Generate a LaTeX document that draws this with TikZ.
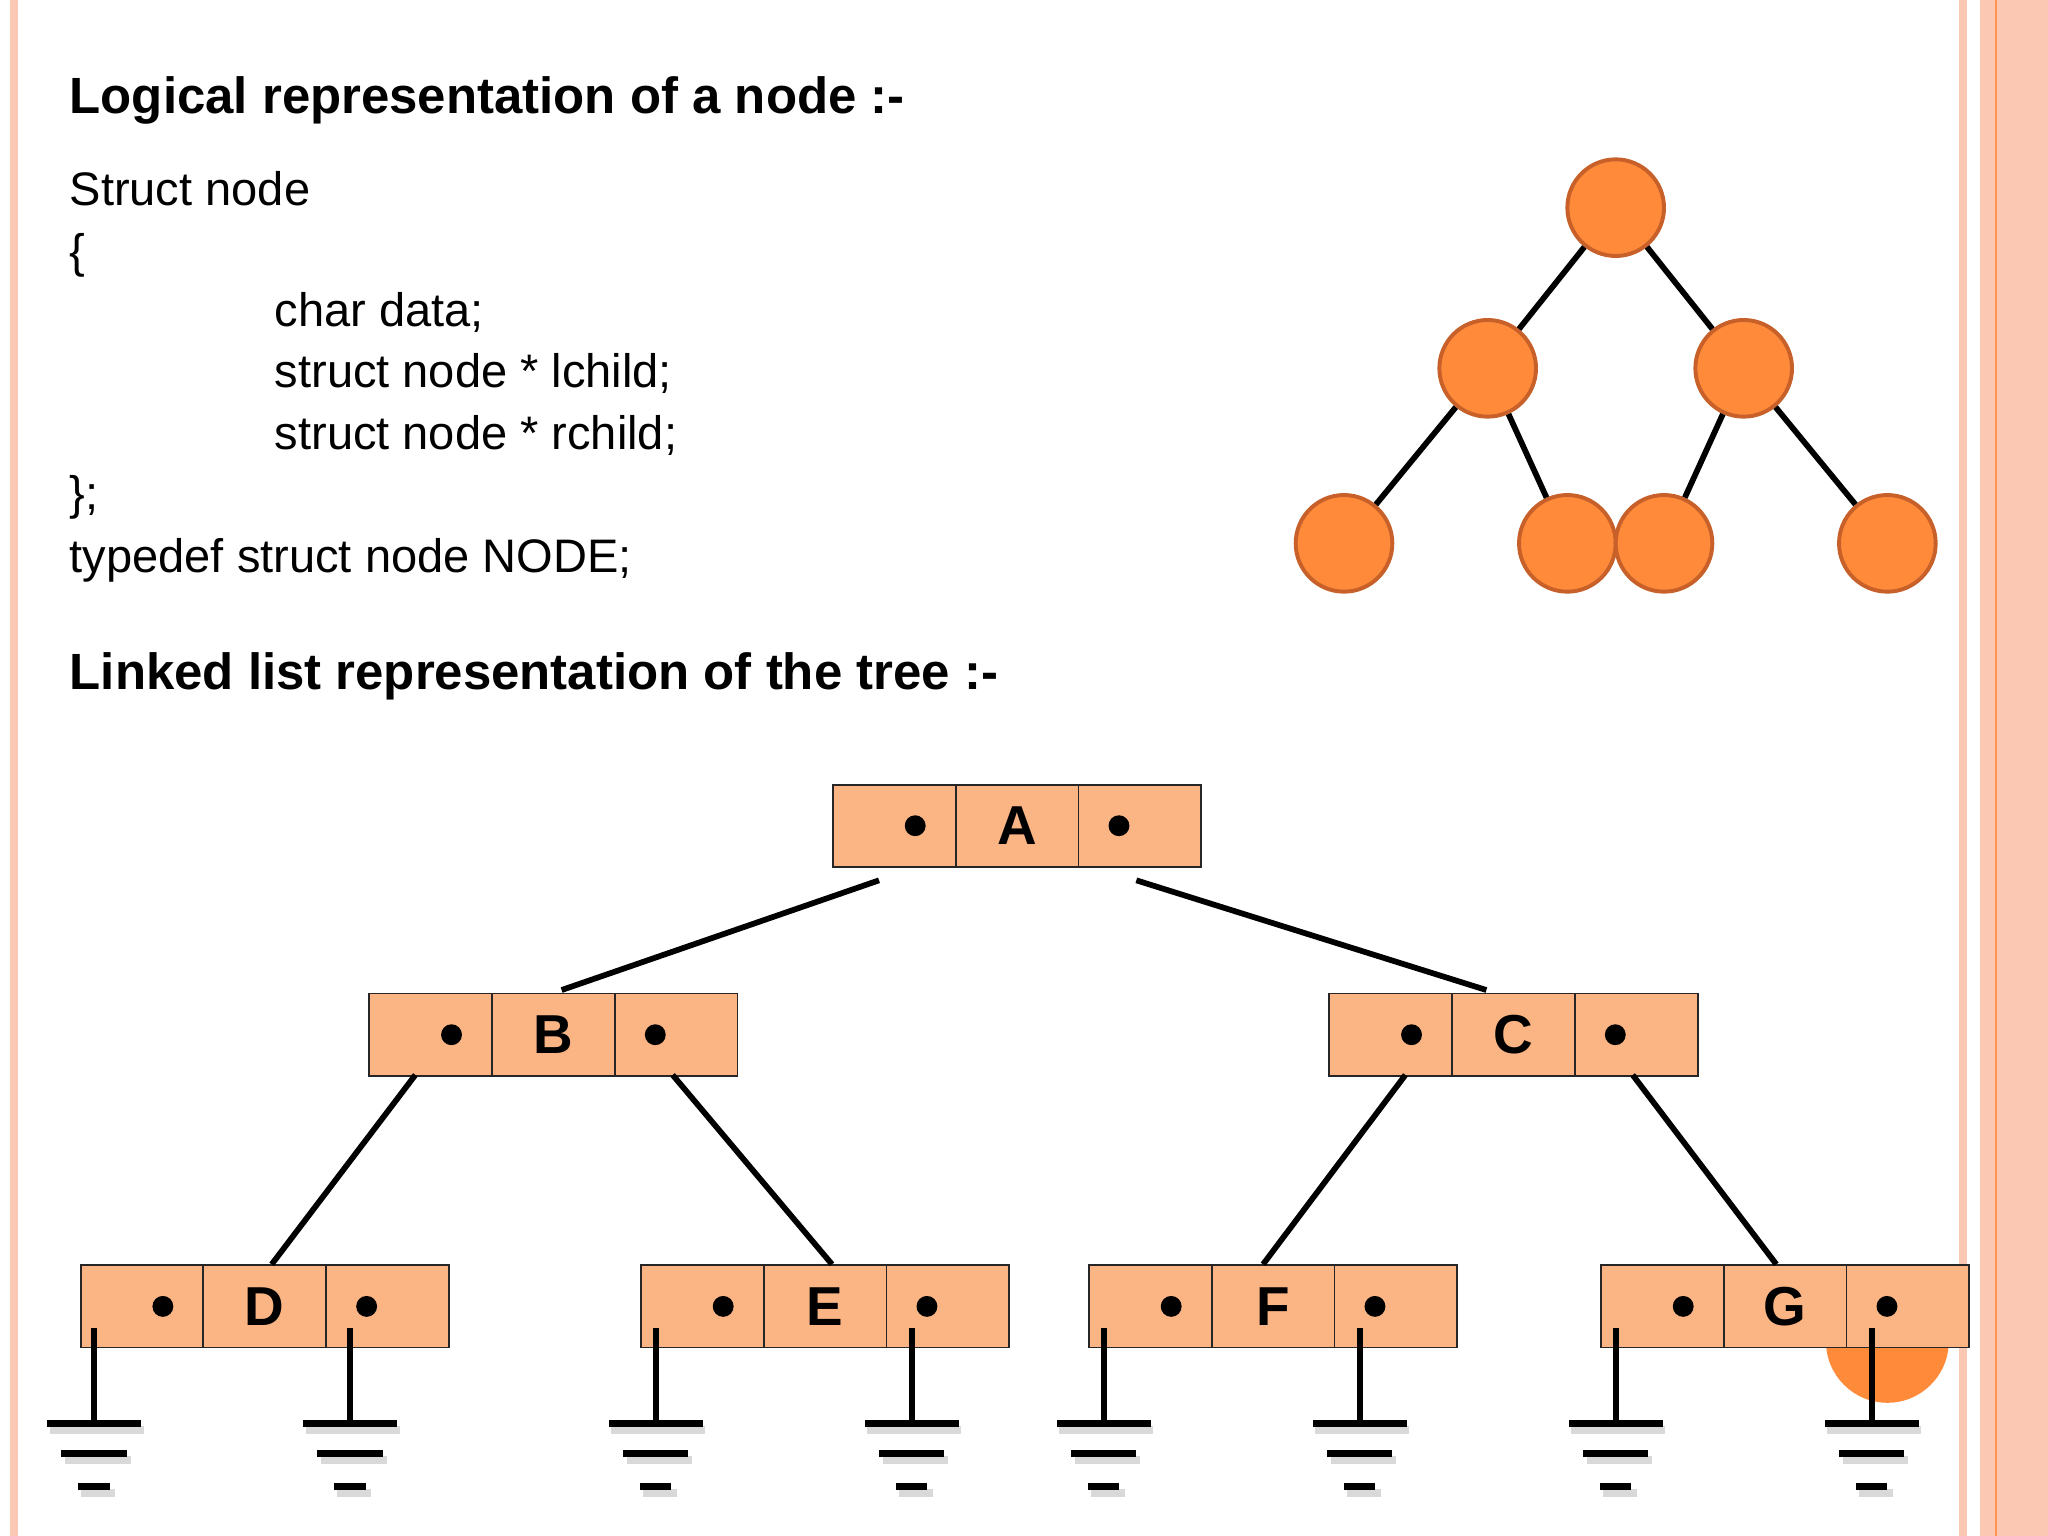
\documentclass[tikz,border=0pt]{standalone}
\usepackage{fontspec}
\setmainfont{Liberation Sans}
\begin{document}
\begin{tikzpicture}[x=0.5pt,y=-0.5pt,
  cell/.style={draw=black!85,fill=boxc,line width=0.7pt,minimum width=47pt,minimum height=31.5pt,inner sep=0,anchor=north west,font=\fontsize{21}{21}\selectfont\bfseries},
  tn/.style={circle,draw=circb,fill=circf,line width=1.5pt,minimum size=37pt,inner sep=0},
  edge/.style={line width=2.2pt,black},
  dotc/.style={circle,fill=black,minimum size=8pt,inner sep=0},
  txt/.style={anchor=base west,inner sep=0,font=\fontsize{18}{18}\selectfont},
  ttl/.style={anchor=base west,inner sep=0,font=\fontsize{19.5}{19.5}\selectfont\bfseries}]
\definecolor{boxc}{HTML}{FBB584}
\definecolor{circf}{HTML}{FF8A3A}
\definecolor{circb}{HTML}{C8602A}
\definecolor{strip}{HTML}{FBC8B4}
\useasboundingbox (0,0) rectangle (1568,1176);
\fill[white] (0,0) rectangle (1568,1176);
\fill[strip] (8,0) rectangle (14,1176);
\fill[strip] (1500,0) rectangle (1506,1176);
\fill[strip] (1516,0) rectangle (1568,1176);
\draw[circf!80!strip,line width=0.8pt] (1528,0) -- (1528,1176);
% texts
\node[ttl] (t1) at (53,87) {Logical representation of a node :-};
\node[txt] (l1) at (53,157) {Struct node};
\node[txt] (l2) at (53,205) {\{};
\node[txt] (l3) at (210,250) {char data;};
\node[txt] (l4) at (210,297) {struct node * lchild;};
\node[txt] (l5) at (210,344) {struct node * rchild;};
\node[txt] (l6) at (53,390) {\};};
\node[txt] (l7) at (53,438) {typedef struct node NODE;};
\node[ttl] (t2) at (53,528) {Linked list representation of the tree :-};
% small tree
\node[tn] (r) at (1237,159) {};
\node[tn] (a) at (1139,282) {};
\node[tn] (b) at (1335,282) {};
\node[tn] (aa) at (1029,416) {};
\node[tn] (ab) at (1200,416) {};
\node[tn] (ba) at (1274,416) {};
\node[tn] (bb) at (1445,416) {};
\foreach \p/\c in {r/a,r/b,a/aa,a/ab,b/ba,b/bb}{\draw[edge] (\p) -- (\c);}
% orange blob under G
\fill[circf] (1445,1027) circle (47);
% list nodes
\foreach \n/\x/\y/\l in {A/637/600/A,B/282/760/B,C/1017/760/C,D/61/968/D,E/490/968/E,F/833/968/F,G/1225/968/G}{
  \node[cell] (\n1) at (\x,\y) {};
  \node[cell] (\n2) at (\x+94,\y) {\l};
  \node[cell] (\n3) at (\x+188,\y) {};
  \node[dotc] at ([xshift=8pt]\n1.center) {};
  \node[dotc] at ([xshift=-8pt]\n3.center) {};
}
% connectors
\coordinate (pa1) at (673,674); \coordinate (pa2) at (870,674);
\coordinate (cb) at (430,758); \coordinate (cc) at (1138,758);
\draw[edge] (pa1) -- (cb); \draw[edge] (pa2) -- (cc);
\coordinate (pb1) at (318,823); \coordinate (pb2) at (515,823);
\coordinate (pc1) at (1076,823); \coordinate (pc2) at (1250,823);
\coordinate (cd) at (208,968); \coordinate (ce) at (637,968);
\coordinate (cf) at (967,968); \coordinate (cg) at (1360,968);
\draw[edge] (pb1) -- (cd); \draw[edge] (pb2) -- (ce);
\draw[edge] (pc1) -- (cf); \draw[edge] (pc2) -- (cg);
% grounds
\foreach \gx [count=\i] in {72,268,502,698,845,1041,1237,1433}{
  \coordinate (g\i) at (\gx,1017);
  \coordinate (h\i) at (\gx,1090);
  \draw[black!15,line width=3pt] (\gx-34,1095) -- (\gx+38,1095) (\gx-22,1118) -- (\gx+28,1118) (\gx-10,1143) -- (\gx+16,1143);
  \draw[edge] (g\i) -- (h\i);
  \draw[black,line width=2.5pt] (\gx-36,1090) -- (\gx+36,1090) (\gx-25,1113) -- (\gx+25,1113) (\gx-12,1138) -- (\gx+12,1138);
}
\end{tikzpicture}
\end{document}
